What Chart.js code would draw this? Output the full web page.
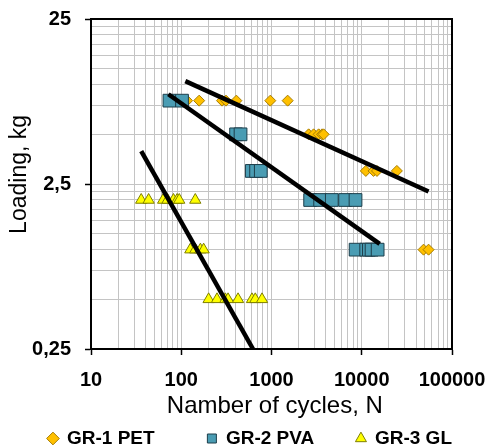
<!DOCTYPE html>
<html>
<head>
<meta charset="utf-8">
<title>Loading vs number of cycles</title>
<script src="https://cdn.jsdelivr.net/npm/chart.js@4.4.1/dist/chart.umd.min.js"></script>
<style>
  html, body { margin: 0; padding: 0; background: #fff; }
  #chart { display: block; }
</style>
</head>
<body>
<canvas id="chart" width="489" height="447"></canvas>
<script>
// Series names shown in the legend
const seriesNames = ['GR-1 PET', 'GR-2 PVA', 'GR-3 GL'];

// GR-1 PET (diamonds): number of cycles and loading, kg
const petCycles = [116, 158, 283, 313, 408, 970, 1510, 2580, 2930, 3330, 3630, 3780, 11100, 13500, 14750, 24500, 48400, 55000];
const petLoad = [8, 8, 8, 8, 8, 8, 8, 5, 5, 5, 5, 5, 3, 3, 3, 3, 1, 1];

// GR-2 PVA (squares)
const pvaCycles = [74, 102, 405, 454, 605, 675, 761, 2680, 3460, 4660, 6540, 8530, 8550, 11200, 12000, 12850, 15000];
const pvaLoad = [8, 8, 5, 5, 3, 3, 3, 2, 2, 2, 2, 2, 1, 1, 1, 1, 1];

// GR-3 GL (triangles)
const glCycles = [36, 43.5, 63, 70.5, 82, 90, 95, 143, 126, 143, 163, 177, 201, 249, 308, 330, 426, 608, 661, 785];
const glLoad = [2, 2, 2, 2, 2, 2, 2, 2, 1, 1, 1, 1, 0.5, 0.5, 0.5, 0.5, 0.5, 0.5, 0.5, 0.5];

// Trend lines (end points)
const petTrendCycles = [111, 55000];
const petTrendLoad = [10.5, 2.25];
const pvaTrendCycles = [72, 15800];
const pvaTrendLoad = [8.75, 1.085];
const glTrendCycles = [36, 624];
const glTrendLoad = [3.96, 0.25];

// Axis ticks
const xMajor = [10, 100, 1000, 10000, 100000];
const xTickLabels = ['10', '100', '1000', '10000', '100000'];
const yMajor = [0.25, 2.5, 25];
const yTickLabels = ['0,25', '2,5', '25'];

const FONT = '"Liberation Sans", Arial, Helvetica, sans-serif';
const GRID = '#c4c4c4';

// gap (in spaces) after each legend entry
const legendGap = [10, 8, 0];

// Major value plus 2..9 multiples inside each decade, used for the grid
function logGrid(majors) {
    const out = [];
    majors.forEach((m, i) => {
        out.push(m);
        if (i < majors.length - 1) {
            for (let k = 2; k <= 9; k++) out.push(m * k);
        }
    });
    return out;
}

function toPoints(xs, ys) {
    return xs.map((x, i) => ({ x: x, y: ys[i] }));
}

function majorColor(majors) {
    return ctx => (ctx.tick && majors.includes(ctx.tick.value)) ? '#000' : 'rgba(0,0,0,0)';
}

// Black frame round the plot area
const frame = {
    id: 'frame',
    beforeDatasetsDraw(chart) {
        const { ctx, chartArea: a } = chart;
        ctx.save();
        ctx.strokeStyle = '#000';
        ctx.lineWidth = 2;
        ctx.strokeRect(a.left, a.top, a.right - a.left, a.bottom - a.top);
        ctx.restore();
    }
};

function trend(label, xs, ys) {
    return {
        label: label,
        data: toPoints(xs, ys),
        showLine: true,
        pointRadius: 0,
        pointHoverRadius: 0,
        borderColor: '#000',
        backgroundColor: '#000',
        borderWidth: 4.5,
        order: 0
    };
}

new Chart(document.getElementById('chart'), {
    type: 'scatter',
    data: {
        datasets: [
            {
                label: seriesNames[0],
                data: toPoints(petCycles, petLoad),
                pointStyle: 'rectRot',
                pointRadius: 5.5,
                backgroundColor: '#FFC000',
                borderColor: '#A67C00',
                borderWidth: 1,
                order: 3
            },
            {
                label: seriesNames[1],
                data: toPoints(pvaCycles, pvaLoad),
                pointStyle: 'rect',
                pointRadius: 9,
                backgroundColor: '#4A9CB3',
                borderColor: '#1D3E4B',
                borderWidth: 1,
                order: 2
            },
            {
                label: seriesNames[2],
                data: toPoints(glCycles, glLoad),
                pointStyle: 'triangle',
                pointRadius: 6.5,
                backgroundColor: '#FFFF00',
                borderColor: '#7F7F00',
                borderWidth: 1,
                order: 1
            },
            trend('PET trend', petTrendCycles, petTrendLoad),
            trend('PVA trend', pvaTrendCycles, pvaTrendLoad),
            trend('GL trend', glTrendCycles, glTrendLoad)
        ]
    },
    options: {
        responsive: false,
        animation: false,
        layout: { padding: { left: 0, right: 37, top: 19, bottom: -11 } },
        plugins: {
            tooltip: { enabled: false },
            legend: {
                position: 'bottom',
                align: 'end',
                labels: {
                    usePointStyle: true,
                    boxWidth: 9,
                    boxHeight: 9,
                    padding: 0,
                    color: '#000',
                    font: { family: FONT, size: 19, weight: 'bold' },
                    filter: item => item.datasetIndex < seriesNames.length,
                    sort: (a, b) => a.datasetIndex - b.datasetIndex,
                    generateLabels: chart => {
                        const items = Chart.defaults.plugins.legend.labels.generateLabels(chart);
                        items.forEach(it => {
                            it.text = it.text + ' '.repeat(legendGap[it.datasetIndex] || 0);
                        });
                        return items;
                    }
                }
            }
        },
        scales: {
            x: {
                type: 'logarithmic',
                min: 10,
                max: 100000,
                afterBuildTicks: s => { s.ticks = logGrid(xMajor).map(v => ({ value: v })); },
                afterFit: s => {
                    s.height = 80;
                    // let the layout padding decide the plot edges
                    s.paddingLeft = 0;
                    s.paddingRight = 0;
                },
                grid: { color: GRID, lineWidth: 1, tickLength: 6, tickWidth: 1.5, tickColor: majorColor(xMajor) },
                border: { color: '#000', width: 2 },
                ticks: {
                    autoSkip: false,
                    maxRotation: 0,
                    minRotation: 0,
                    padding: 13,
                    color: '#000',
                    font: { family: FONT, size: 20, weight: 'bold' },
                    callback: v => {
                        const i = xMajor.indexOf(v);
                        return i >= 0 ? xTickLabels[i] : '';
                    }
                },
                title: {
                    display: true,
                    text: ' Namber of cycles, N',
                    color: '#000',
                    font: { family: FONT, size: 24 },
                    padding: { top: 0, bottom: 8 }
                }
            },
            y: {
                type: 'logarithmic',
                min: 0.25,
                max: 25,
                afterBuildTicks: s => { s.ticks = logGrid(yMajor).map(v => ({ value: v })); },
                afterFit: s => {
                    s.width = 91;
                    s.paddingTop = 0;
                    s.paddingBottom = 0;
                },
                grid: { color: GRID, lineWidth: 1, tickLength: 6, tickWidth: 1.5, tickColor: majorColor(yMajor) },
                border: { color: '#000', width: 2 },
                ticks: {
                    autoSkip: false,
                    padding: 14,
                    color: '#000',
                    font: { family: FONT, size: 20, weight: 'bold' },
                    callback: v => {
                        const i = yMajor.indexOf(v);
                        return i >= 0 ? yTickLabels[i] : '';
                    }
                },
                title: {
                    display: true,
                    text: '   Loading, kg',
                    color: '#000',
                    font: { family: FONT, size: 23 },
                    padding: { top: 6, bottom: 0 }
                }
            }
        }
    },
    plugins: [frame]
});
</script>
</body>
</html>
